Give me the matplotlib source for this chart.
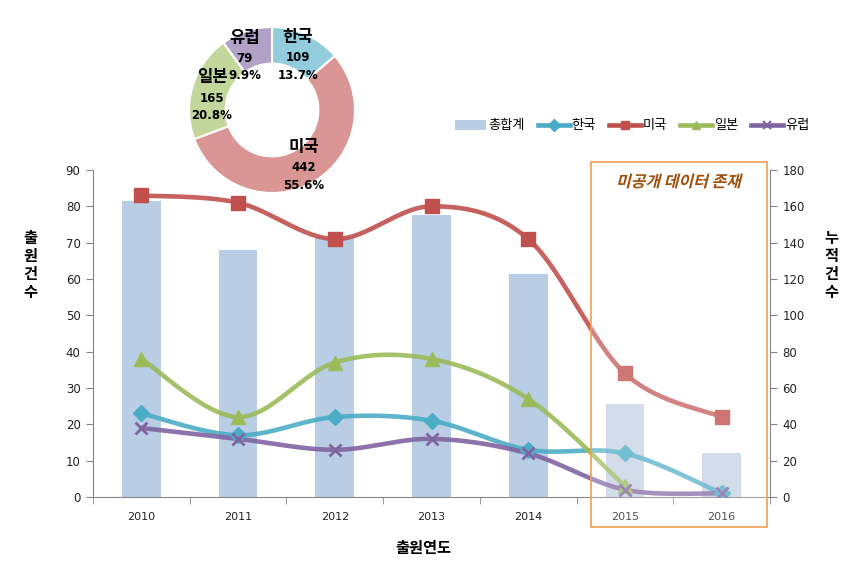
import numpy as np
import matplotlib
matplotlib.use("Agg")
import matplotlib.pyplot as plt
from matplotlib.patches import Rectangle, PathPatch
from matplotlib.lines import Line2D
from matplotlib.textpath import TextPath
from matplotlib.font_manager import FontProperties
from matplotlib.transforms import Affine2D, IdentityTransform

plt.rcParams['font.family'] = ['Noto Sans CJK KR', 'DejaVu Sans']

years = ['2010', '2011', '2012', '2013', '2014', '2015', '2016']
korea = [23, 17, 22, 21, 13, 12, 1]
usa = [83, 81, 71, 80, 71, 34, 22]
japan = [38, 22, 37, 38, 27, 3, None]
europe = [19, 16, 13, 16, 12, 2, 1]
totals = [163, 136, 143, 155, 123, 51, 24]

pie_labels = ['한국', '미국', '일본', '유럽']
pie_values = [109, 442, 165, 79]

series_names = ['한국', '미국', '일본', '유럽']
line_colors = ['#4BACC6', '#C0504D', '#9BBB59', '#8064A2']
markers = ['D', 's', '^', 'x']
pie_colors = ['#93CDDD', '#D99694', '#C3D69B', '#B3A2C7']
pie_label_angle_nudge = [0, 0, 2, 8]


def excel_smooth(xs, ys, n=30):
    xs = np.asarray(xs, float)
    ys = np.asarray(ys, float)
    P = np.column_stack([xs, ys])
    out = []
    m = len(P)
    for i in range(m - 1):
        p0 = P[i - 1] if i > 0 else P[i]
        p1 = P[i]
        p2 = P[i + 1]
        p3 = P[i + 2] if i + 2 < m else P[i + 1]
        c1 = p1 + (p2 - p0) / 6.0
        c2 = p2 - (p3 - p1) / 6.0
        t = np.linspace(0, 1, n)[:, None]
        seg = ((1 - t) ** 3) * p1 + 3 * ((1 - t) ** 2) * t * c1 + 3 * (1 - t) * t ** 2 * c2 + t ** 3 * p2
        out.append(seg if i == 0 else seg[1:])
    seg = np.vstack(out)
    return seg[:, 0], seg[:, 1]


DPI = 100
fig = plt.figure(figsize=(8.55, 5.68), dpi=DPI)
ax = fig.add_axes([93 / 855, 1 - 497 / 568, 677 / 855, 327 / 568])
ax2 = ax.twinx()
ax.set_zorder(ax2.get_zorder() + 1)
ax.patch.set_visible(False)

x = np.arange(len(years))
bar_cols = ['#B9CDE5'] * 5 + ['#C6D3E6'] * 2
ax2.bar(x, totals, width=0.4, color=bar_cols, edgecolor='none', zorder=1)
ax2.set_ylim(0, 180)
ax2.set_yticks(np.arange(0, 181, 20))

for vals, name, col, mk in zip([korea, usa, japan, europe], series_names, line_colors, markers):
    xv = [xi for xi, v in zip(x, vals) if v is not None]
    yv = [v for v in vals if v is not None]
    sx, sy = excel_smooth(xv, yv)
    ax.plot(sx, sy, color=col, lw=3.3, alpha=0.9, solid_capstyle='round', zorder=3)
    if mk == 'x':
        ax.plot(xv, yv, linestyle='none', marker=mk, ms=9, mew=2, color=col, zorder=4)
    else:
        ax.plot(xv, yv, linestyle='none', marker=mk, ms=8.5 if mk == 'D' else 9.5, color=col, mec=col, zorder=4)

ax.set_xlim(-0.5, len(years) - 0.5)
ax.set_ylim(0, 90)
ax.set_yticks(np.arange(0, 91, 10))
ax.set_xticks(x)
ax.set_xticklabels(years)
ax.set_xticks(np.arange(-0.5, len(years), 1), minor=True)
ax.tick_params(axis='x', which='major', length=0, pad=11, labelsize=8, labelcolor='#222222')
ax.tick_params(axis='x', which='minor', length=5, color='#868686', direction='out')
ax.tick_params(axis='y', length=5, color='#868686', labelsize=8.5, labelcolor='#222222', pad=4)
ax2.tick_params(axis='y', length=5, color='#868686', labelsize=8.5, labelcolor='#222222', pad=4)
for a in (ax, ax2):
    a.spines['top'].set_visible(False)
    for s in ('left', 'right', 'bottom'):
        a.spines[s].set_color('#868686')
ax.spines['right'].set_visible(False)
ax2.spines['left'].set_visible(False)
ax2.spines['bottom'].set_visible(False)
for lab in ax.get_xticklabels() + ax.get_yticklabels() + ax2.get_yticklabels():
    lab.set_family('DejaVu Sans')

# axis titles
fig.text(30 / 855, 1 - 265 / 568, '출\n원\n건\n수', ha='center', va='center', fontsize=11,
         fontweight='bold', linespacing=1.15)
fig.text(831 / 855, 1 - 265 / 568, '누\n적\n건\n수', ha='center', va='center', fontsize=11,
         fontweight='bold', linespacing=1.15)
fig.text(423 / 855, 1 - 548 / 568, '출원연도', ha='center', va='center', fontsize=11, fontweight='bold')

# highlighted box
rect = Rectangle((591 / 855, 1 - 527 / 568), 176 / 855, 365 / 568, transform=fig.transFigure,
                 facecolor='white', alpha=0.22, edgecolor='none', zorder=5)
fig.add_artist(rect)
rect2 = Rectangle((591 / 855, 1 - 527 / 568), 176 / 855, 365 / 568, transform=fig.transFigure,
                  facecolor='none', edgecolor='#F0A050', lw=1.2, zorder=6)
fig.add_artist(rect2)

# italic (skewed) note text
fp = FontProperties(family='Noto Sans CJK KR', weight='bold')
tp = TextPath((0, 0), '미공개 데이터 존재', prop=fp, size=11.5)
ext = tp.get_extents()
px_scale = DPI / 72.0
cx_pix, cy_pix = 680, 568 - 181
tr = (Affine2D().translate(-(ext.x0 + ext.x1) / 2, -(ext.y0 + ext.y1) / 2)
      .scale(px_scale).skew_deg(14, 0).translate(cx_pix, cy_pix))
note = PathPatch(tr.transform_path(tp), transform=IdentityTransform(), facecolor='#A0500C',
                 edgecolor='none', zorder=7)
fig.add_artist(note)

# legend
handles = [Rectangle((0, 0), 1, 1, facecolor='#B9CDE5', edgecolor='none')]
for name, col, mk in zip(series_names, line_colors, markers):
    handles.append(Line2D([0], [0], color=col, lw=3.3, marker=mk, ms=6, mew=1.5 if mk == 'x' else 1))
fig.legend(handles, ['총합계'] + series_names, loc='center', bbox_to_anchor=(632 / 855, 1 - 126 / 568),
           ncol=5, frameon=False, fontsize=9.5, handlelength=2.4, handletextpad=0.15, columnspacing=1.0)

# donut
pax = fig.add_axes([(272 - 85) / 855, 1 - (110 + 85) / 568, 170 / 855, 170 / 568])
wedges, _ = pax.pie(pie_values, colors=pie_colors, startangle=90, counterclock=False, radius=0.976,
                    wedgeprops=dict(width=0.43, edgecolor='white', linewidth=1.5))
pax.set_xlim(-1, 1)
pax.set_ylim(-1, 1)
pax.set_aspect('equal')
tot = sum(pie_values)
for w, lab, v, nudge in zip(wedges, pie_labels, pie_values, pie_label_angle_nudge):
    ang = np.deg2rad((w.theta1 + w.theta2) / 2 + nudge)
    r = 0.73
    cx, cy = r * np.cos(ang), r * np.sin(ang) - 0.05
    pax.annotate(lab, (cx, cy), xytext=(0, 15), textcoords='offset points', ha='center', va='center',
                 fontsize=12, fontweight='bold', color='black')
    pax.annotate(f'{v}', (cx, cy), xytext=(0, 0), textcoords='offset points', ha='center', va='center',
                 fontsize=8.5, fontweight='bold', color='black', family='DejaVu Sans')
    pax.annotate(f'{v / tot * 100:.1f}%', (cx, cy), xytext=(0, -12.5), textcoords='offset points',
                 ha='center', va='center', fontsize=8.5, fontweight='bold', color='black', family='DejaVu Sans')

fig.savefig('out.png', dpi=DPI)
